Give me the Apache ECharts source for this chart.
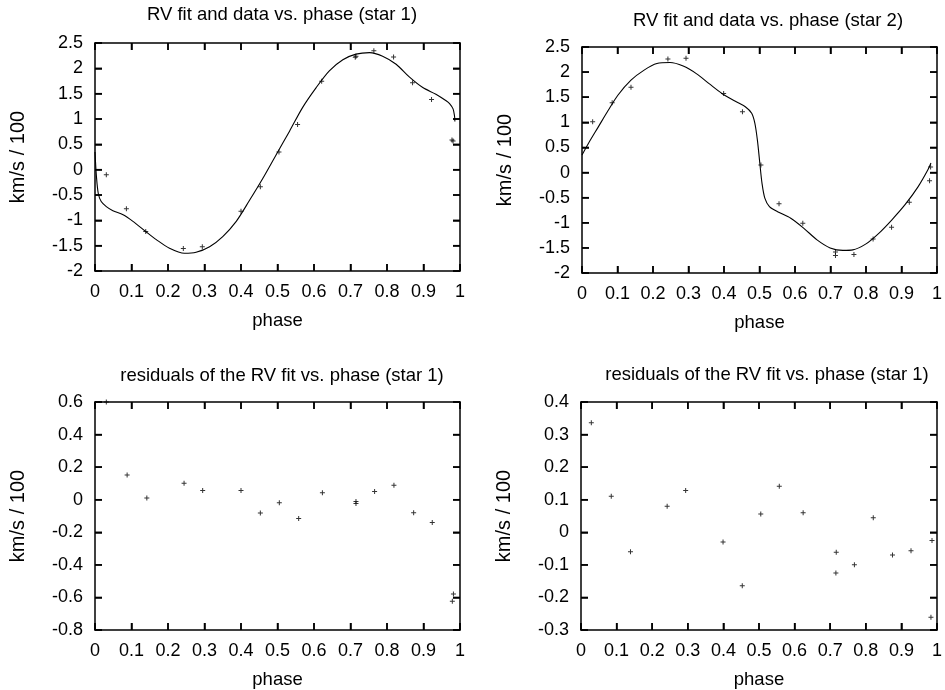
<!DOCTYPE html>
<html>
<head>
<meta charset="utf-8">
<script src="https://cdn.jsdelivr.net/npm/echarts@6/dist/echarts.min.js"></script>
<style>
html,body{margin:0;padding:0;background:#fff;}
#c{width:945px;height:690px;}
</style>
</head>
<body>
<div id="c"></div>
<script>
// ---- Data ----
var titles = [
  "RV fit and data vs. phase (star 1)",
  "RV fit and data vs. phase (star 2)",
  "residuals of the RV fit vs. phase (star 1)",
  "residuals of the RV fit vs. phase (star 1)"
];
var xLabel = "phase";
var yLabel = "km/s / 100";

// Star 1 RV data
var rv1Phase = [0.031, 0.086, 0.139, 0.242, 0.294, 0.400, 0.453, 0.504, 0.555, 0.621, 0.713, 0.715, 0.764, 0.818, 0.870, 0.922, 0.978, 0.981];
var rv1Value = [-0.10, -0.77, -1.22, -1.555, -1.52, -0.82, -0.335, 0.35, 0.89, 1.745, 2.22, 2.24, 2.345, 2.225, 1.715, 1.385, 0.585, 0.565];

// Star 1 fit curve
var fit1Phase = [0.000, 0.004, 0.009, 0.017, 0.031, 0.049, 0.077, 0.104, 0.139, 0.168, 0.204, 0.245, 0.277, 0.314, 0.350, 0.387, 0.423, 0.460, 0.496, 0.533, 0.569, 0.606, 0.642, 0.679, 0.715, 0.752, 0.788, 0.825, 0.861, 0.898, 0.934, 0.962, 0.972, 0.981, 0.985, 0.986];
var fit1Value = [0.35, -0.14, -0.47, -0.63, -0.73, -0.81, -0.89, -1.02, -1.22, -1.38, -1.55, -1.65, -1.63, -1.52, -1.32, -1.02, -0.61, -0.17, 0.29, 0.76, 1.23, 1.62, 1.95, 2.17, 2.28, 2.31, 2.24, 2.08, 1.83, 1.62, 1.49, 1.36, 1.30, 1.20, 1.06, 0.95];

// Star 2 RV data
var rv2Phase = [0.030, 0.085, 0.138, 0.242, 0.293, 0.399, 0.452, 0.504, 0.555, 0.622, 0.714, 0.714, 0.766, 0.820, 0.872, 0.922, 0.979, 0.982];
var rv2Value = [1.01, 1.39, 1.70, 2.26, 2.275, 1.575, 1.21, 0.15, -0.62, -1.01, -1.58, -1.65, -1.63, -1.325, -1.09, -0.59, -0.165, 0.11];

// Star 2 fit curve
var fit2Phase = [0.000, 0.018, 0.046, 0.074, 0.101, 0.138, 0.175, 0.211, 0.248, 0.285, 0.322, 0.358, 0.395, 0.432, 0.460, 0.478, 0.487, 0.494, 0.501, 0.507, 0.515, 0.528, 0.551, 0.588, 0.625, 0.662, 0.699, 0.735, 0.763, 0.800, 0.836, 0.873, 0.910, 0.947, 0.974, 0.983];
var fit2Value = [0.35, 0.58, 0.91, 1.24, 1.54, 1.84, 2.04, 2.17, 2.19, 2.12, 1.97, 1.77, 1.57, 1.42, 1.31, 1.18, 0.98, 0.65, 0.18, -0.21, -0.51, -0.68, -0.78, -0.91, -1.11, -1.34, -1.50, -1.55, -1.54, -1.42, -1.21, -0.94, -0.64, -0.28, 0.05, 0.19];

// Star 1 residuals (lower left)
var res1Phase = [0.031, 0.088, 0.142, 0.244, 0.295, 0.400, 0.453, 0.505, 0.558, 0.623, 0.715, 0.715, 0.766, 0.819, 0.873, 0.924, 0.982, 0.979];
var res1Value = [0.60, 0.152, 0.010, 0.101, 0.056, 0.056, -0.082, -0.019, -0.116, 0.042, -0.011, -0.023, 0.050, 0.089, -0.080, -0.140, -0.579, -0.623];

// Residuals (lower right)
var res2Phase = [0.029, 0.085, 0.139, 0.242, 0.294, 0.399, 0.453, 0.505, 0.557, 0.624, 0.717, 0.716, 0.768, 0.821, 0.875, 0.927, 0.986, 0.983];
var res2Value = [0.336, 0.111, -0.060, 0.080, 0.128, -0.030, -0.164, 0.056, 0.141, 0.060, -0.061, -0.125, -0.100, 0.045, -0.070, -0.057, -0.025, -0.261];

// Tick values
var xTickValues = [0, 0.1, 0.2, 0.3, 0.4, 0.5, 0.6, 0.7, 0.8, 0.9, 1];
var yTickValuesRV = [-2, -1.5, -1, -0.5, 0, 0.5, 1, 1.5, 2, 2.5];
var yTickValuesRes1 = [-0.8, -0.6, -0.4, -0.2, 0, 0.2, 0.4, 0.6];
var yTickValuesRes2 = [-0.3, -0.2, -0.1, 0, 0.1, 0.2, 0.3, 0.4];

var xRange = {min: 0, max: 1, interval: 0.1};
var yRanges = [
  {min: -2, max: 2.5, interval: 0.5},
  {min: -2, max: 2.5, interval: 0.5},
  {min: -0.8, max: 0.6, interval: 0.2},
  {min: -0.3, max: 0.4, interval: 0.1}
];
var yTickSets = [yTickValuesRV, yTickValuesRV, yTickValuesRes1, yTickValuesRes2];

// ---- Layout ----
var grids = [
  {left: 95, top: 43, width: 365, height: 228},
  {left: 582, top: 47, width: 362, height: 226},
  {left: 95, top: 402, width: 365, height: 230},
  {left: 581, top: 402, width: 363, height: 229}
];
var titlePos = [
  {x: 277, y: 0},
  {x: 763, y: 6},
  {x: 277, y: 361},
  {x: 762, y: 360}
];
var TICK_LEN = 7;

var FONT = "Liberation Sans, Arial, sans-serif";
var plus = 'path://M2,0L3,0L3,2L5,2L5,3L3,3L3,5L2,5L2,3L0,3L0,2L2,2Z';

function pairs(xs, ys) {
  var out = [];
  for (var i = 0; i < xs.length; i++) out.push([xs[i], ys[i]]);
  return out;
}

// side: 'bottom' | 'top' | 'left' | 'right'
function makeTickRenderer(side) {
  return function (params, api) {
    var cs = params.coordSys;
    var p = api.coord([api.value(0), api.value(1)]);
    var shape;
    if (side === 'bottom') {
      var b = cs.y + cs.height;
      shape = {x1: p[0], y1: b, x2: p[0], y2: b - TICK_LEN};
    } else if (side === 'top') {
      shape = {x1: p[0], y1: cs.y, x2: p[0], y2: cs.y + TICK_LEN};
    } else if (side === 'left') {
      shape = {x1: cs.x, y1: p[1], x2: cs.x + TICK_LEN, y2: p[1]};
    } else {
      var r = cs.x + cs.width;
      shape = {x1: r, y1: p[1], x2: r - TICK_LEN, y2: p[1]};
    }
    return {type: 'line', shape: shape, style: {stroke: '#000', lineWidth: 1.5}};
  };
}

var axisLineStyle = {color: '#000', width: 1.5};

var xAxes = [], yAxes = [], series = [], titleArr = [];
for (var g = 0; g < 4; g++) {
  titleArr.push({
    text: titles[g], left: titlePos[g].x, top: titlePos[g].y, textAlign: 'center',
    textStyle: {fontFamily: FONT, fontSize: 18.5, fontWeight: 'normal', color: '#000'}
  });
  xAxes.push({
    type: 'value', gridIndex: g, position: 'bottom', min: xRange.min, max: xRange.max, interval: xRange.interval,
    name: xLabel, nameLocation: 'middle', nameGap: 40,
    nameTextStyle: {fontFamily: FONT, fontSize: 18.5, color: '#000'},
    axisLine: {show: true, onZero: false, lineStyle: axisLineStyle},
    axisTick: {show: true, inside: true, length: TICK_LEN, lineStyle: {color: '#000', width: 1.5}},
    axisLabel: {show: true, fontFamily: FONT, fontSize: 18, color: '#000', margin: 12},
    splitLine: {show: false}
  });
  xAxes.push({
    type: 'value', gridIndex: g, position: 'top', min: xRange.min, max: xRange.max, interval: xRange.interval,
    axisLine: {show: true, onZero: false, lineStyle: axisLineStyle},
    axisTick: {show: true, inside: true, length: TICK_LEN, lineStyle: {color: '#000', width: 1.5}},
    axisLabel: {show: false}, splitLine: {show: false}
  });
  yAxes.push({
    type: 'value', gridIndex: g, position: 'left', min: yRanges[g].min, max: yRanges[g].max, interval: yRanges[g].interval,
    name: yLabel, nameLocation: 'middle', nameGap: 67, nameRotate: 90,
    nameTextStyle: {fontFamily: FONT, fontSize: 20, color: '#000'},
    axisLine: {show: true, onZero: false, lineStyle: axisLineStyle},
    axisTick: {show: true, inside: true, length: TICK_LEN, lineStyle: {color: '#000', width: 1.5}},
    axisLabel: {show: true, fontFamily: FONT, fontSize: 18, color: '#000', margin: 12},
    splitLine: {show: false}
  });
  yAxes.push({
    type: 'value', gridIndex: g, position: 'right', min: yRanges[g].min, max: yRanges[g].max, interval: yRanges[g].interval,
    axisLine: {show: true, onZero: false, lineStyle: axisLineStyle},
    axisTick: {show: true, inside: true, length: TICK_LEN, lineStyle: {color: '#000', width: 1.5}},
    axisLabel: {show: false}, splitLine: {show: false}
  });

  // mirrored inside tick marks, placed through each grid's own scales
  var xTickData = [], yTickData = [];
  for (var i = 0; i < xTickValues.length; i++) xTickData.push([xTickValues[i], yRanges[g].min]);
  for (var j = 0; j < yTickSets[g].length; j++) yTickData.push([xRange.min, yTickSets[g][j]]);
  var sides = ['bottom', 'top', 'left', 'right'];
  for (var q = 0; q < 4; q++) {
    series.push({
      type: 'custom', xAxisIndex: 2 * g, yAxisIndex: 2 * g,
      data: q < 2 ? xTickData : yTickData,
      renderItem: makeTickRenderer(sides[q]), clip: false, z: 10
    });
  }
}

var scatterData = [pairs(rv1Phase, rv1Value), pairs(rv2Phase, rv2Value), pairs(res1Phase, res1Value), pairs(res2Phase, res2Value)];
var fits = [pairs(fit1Phase, fit1Value), pairs(fit2Phase, fit2Value)];

for (var k = 0; k < 2; k++) {
  series.push({
    type: 'line', xAxisIndex: 2 * k, yAxisIndex: 2 * k, data: fits[k],
    smooth: 0.3, showSymbol: false, symbol: 'none',
    lineStyle: {color: '#000', width: 1.1}, silent: true
  });
}
for (var s = 0; s < 4; s++) {
  series.push({
    type: 'scatter', xAxisIndex: 2 * s, yAxisIndex: 2 * s, data: scatterData[s],
    symbol: plus, symbolSize: 5, itemStyle: {color: '#000'}, clip: false, silent: true
  });
}

var chart = echarts.init(document.getElementById('c'));
chart.setOption({
  animation: false,
  title: titleArr,
  grid: grids,
  xAxis: xAxes,
  yAxis: yAxes,
  series: series
});
</script>
</body>
</html>
